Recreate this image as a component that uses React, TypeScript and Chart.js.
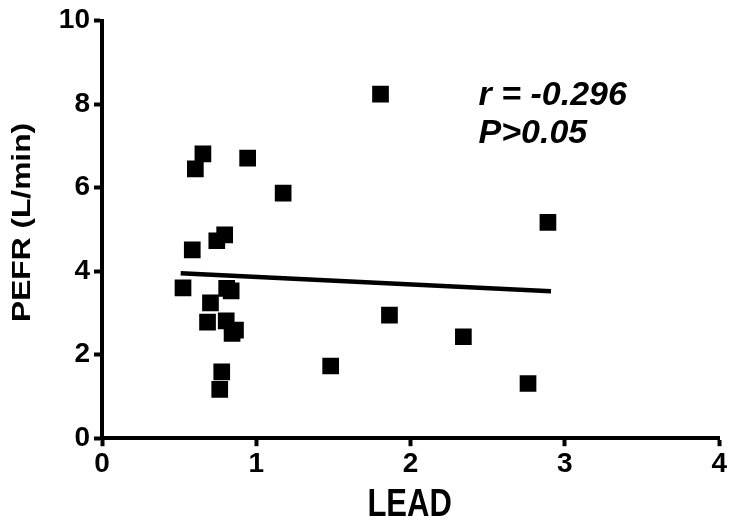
import React, { useEffect, useRef } from "react";
import { Chart, registerables } from "chart.js";

Chart.register(...registerables);

// LEAD (x) and PEFR (y) values of each subject
const leadValues = [0.525, 0.585, 0.605, 0.654, 0.744, 0.795, 0.808, 0.837, 0.703, 0.684, 0.805, 0.843, 0.865, 0.776, 0.763, 0.944, 1.174, 1.805, 1.863, 2.342, 2.761, 2.89, 1.482];
const pefrValues = [3.6, 4.51, 6.45, 6.81, 4.73, 4.87, 3.59, 3.53, 3.24, 2.78, 2.81, 2.51, 2.59, 1.59, 1.17, 6.71, 5.87, 8.24, 2.95, 2.43, 1.31, 5.17, 1.73];

// regression line end points
const fitLead = [0.51, 2.91];
const fitPefr = [3.95, 3.52];

const statLines = ["r = -0.296", "P>0.05"];
const xTitle = "LEAD";
const yTitle = "PEFR (L/min)";

const FONT = "'Liberation Sans', Arial, Helvetica, sans-serif";

const textPlugin = {
  id: "texts",
  afterDraw(chart: any) {
    const { ctx, scales, chartArea } = chart;
    ctx.save();
    ctx.fillStyle = "#000";

    // statistics annotation
    const sx = scales.x.getPixelForValue(2.44);
    const sy = scales.y.getPixelForValue(7.98);
    ctx.font = `italic bold 34px ${FONT}`;
    ctx.textAlign = "left";
    ctx.textBaseline = "alphabetic";
    statLines.forEach((t, i) => ctx.fillText(t, sx, sy + i * 38));

    // y axis title (rotated, elongated like the original)
    ctx.save();
    ctx.translate(23, (chartArea.top + chartArea.bottom) / 2 - 7);
    ctx.rotate(-Math.PI / 2);
    ctx.scale(1.22, 1);
    ctx.font = `bold 26px ${FONT}`;
    ctx.textAlign = "center";
    ctx.textBaseline = "middle";
    ctx.fillText(yTitle, 0, 0);
    ctx.restore();

    // x axis title (taller than wide like the original)
    ctx.save();
    ctx.translate((chartArea.left + chartArea.right) / 2 - 1, chartArea.bottom + 67);
    ctx.scale(1, 1.25);
    ctx.font = `bold 31px ${FONT}`;
    ctx.textAlign = "center";
    ctx.textBaseline = "middle";
    ctx.fillText(xTitle, 0, 0);
    ctx.restore();

    ctx.restore();
  },
};

export default function App() {
  const ref = useRef<HTMLCanvasElement | null>(null);

  useEffect(() => {
    if (!ref.current) return;
    const points = leadValues.map((v, i) => ({ x: v, y: pefrValues[i] }));
    const fit = fitLead.map((v, i) => ({ x: v, y: fitPefr[i] }));
    const chart = new Chart(ref.current, {
      type: "scatter",
      data: {
        datasets: [
          {
            type: "line",
            data: fit,
            borderColor: "#000",
            borderWidth: 4.5,
            pointRadius: 0,
            fill: false,
            tension: 0,
          } as any,
          {
            data: points,
            pointStyle: "rect",
            pointRadius: 11.8,
            pointHoverRadius: 11.8,
            backgroundColor: "#000",
            borderColor: "#000",
            borderWidth: 0,
          },
        ],
      },
      options: {
        animation: false,
        responsive: false,
        devicePixelRatio: 1,
        layout: { padding: { top: 20.7, right: 9, left: 0, bottom: 0 } },
        plugins: { legend: { display: false }, tooltip: { enabled: false } },
        scales: {
          x: {
            type: "linear",
            min: 0,
            max: 4,
            ticks: { stepSize: 1, color: "#000", padding: 1, font: { family: FONT, size: 28, weight: "bold" } },
            grid: { drawOnChartArea: false, drawTicks: true, tickLength: 8, tickWidth: 4, tickColor: "#000" },
            border: { display: true, color: "#000", width: 4 },
            title: { display: false },
            afterFit(s: any) {
              s.height = 88.8;
              s.paddingLeft = 0;
              s.paddingRight = 0;
            },
          },
          y: {
            type: "linear",
            min: 0,
            max: 10,
            ticks: { stepSize: 2, color: "#000", padding: 4, font: { family: FONT, size: 28, weight: "bold" } },
            grid: { drawOnChartArea: false, drawTicks: true, tickLength: 8, tickWidth: 4, tickColor: "#000" },
            border: { display: true, color: "#000", width: 4 },
            title: { display: false },
            afterFit(s: any) {
              s.width = 102;
              s.paddingTop = 0;
              s.paddingBottom = 0;
            },
          },
        },
      } as any,
      plugins: [textPlugin],
    });
    return () => chart.destroy();
  }, []);

  return (
    <div style={{ position: "fixed", left: 0, top: 0, width: 731, height: 527, background: "#fff" }}>
      <canvas ref={ref} width={731} height={527} style={{ display: "block", width: 731, height: 527 }} />
    </div>
  );
}
